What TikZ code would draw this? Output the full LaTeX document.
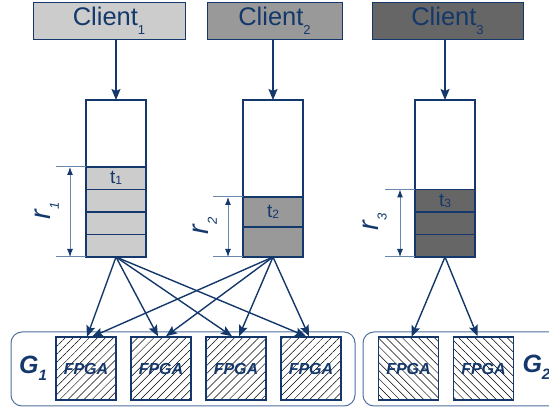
\documentclass[tikz,border=0pt]{standalone}
\usepackage{fontspec}
\setmainfont{Liberation Sans}
\usetikzlibrary{arrows.meta,positioning,patterns.meta}

\definecolor{navy}{HTML}{14386B}
\definecolor{dimblue}{HTML}{6A88AE}
\definecolor{grpblue}{HTML}{4F6F9C}
\definecolor{lite}{HTML}{CCCCCC}
\definecolor{mid}{HTML}{999999}
\definecolor{dark}{HTML}{666666}

\newcommand{\csub}[1]{\raisebox{-9pt}{\fontsize{13}{13}\selectfont #1}}
\newcommand{\tsub}[1]{\raisebox{-1pt}{\fontsize{12}{12}\selectfont #1}}
\newcommand{\rsub}[1]{\raisebox{-8pt}{\fontsize{13}{13}\selectfont #1}}
\newcommand{\gsub}[1]{\raisebox{-7pt}{\fontsize{15}{15}\selectfont #1}}

\tikzset{
  client/.style={draw=navy, line width=0.8pt, minimum height=37pt, inner sep=0pt,
    text=navy, font=\fontsize{25.5}{25.5}\selectfont},
  queue/.style={draw=navy, line width=1.5pt, minimum width=60pt, minimum height=157pt,
    inner sep=0pt, outer sep=0pt},
  slot/.style={draw=navy, line width=1.2pt, minimum width=60pt, minimum height=22.5pt,
    inner sep=0pt, outer sep=0pt, text=navy, font=\fontsize{19}{19}\selectfont},
  bigslot/.style={slot, minimum height=30pt},
  fpga/.style={draw=navy, line width=1.5pt, minimum width=60pt, minimum height=63pt,
    inner sep=0pt, text=navy, font=\fontsize{16}{16}\selectfont\bfseries\itshape},
  hatchne/.style={pattern={Lines[angle=45,distance=5.7pt,line width=0.5pt]}, pattern color=black},
  hatchnw/.style={pattern={Lines[angle=-45,distance=5.7pt,line width=0.5pt]}, pattern color=black},
  group/.style={draw=grpblue, line width=1pt, rounded corners=11pt, minimum height=74pt},
  flow/.style={draw=navy, line width=1.4pt, -{Stealth[length=11pt,width=9pt,inset=2pt]}},
  tick/.style={draw=dimblue, line width=1pt},
  dim/.style={draw=dimblue, line width=1pt,
    {Latex[length=8pt,width=6pt,color=navy]}-{Latex[length=8pt,width=6pt,color=navy]}},
  rlabel/.style={text=navy, rotate=90, font=\fontsize{29}{29}\selectfont\itshape},
  glabel/.style={text=navy, font=\fontsize{25}{25}\selectfont\bfseries\itshape},
}

\begin{document}
\begin{tikzpicture}[x=1pt, y=-1pt, node distance=75pt]
\useasboundingbox (0,0) rectangle (549,411);

\node (c1) [client, fill=lite, minimum width=152pt] at (109,20.5) {Client\csub{1}};
\node (c2) [client, fill=mid, minimum width=135pt] at (274.5,20.5) {Client\csub{2}};
\node (c3) [client, fill=dark, minimum width=151pt] at (447.5,20.5) {Client\csub{3}};

\node (q1) [queue] at (116,178.5) {};
\node (q2) [queue] at (273,178.5) {};
\node (q3) [queue] at (445,178.5) {};

\node (s14) [slot, fill=lite, above=0pt of q1.south] {};
\node (s13) [slot, fill=lite, above=0pt of s14] {};
\node (s12) [slot, fill=lite, above=0pt of s13] {};
\node (t1) [slot, fill=lite, above=0pt of s12] {t\tsub{1}};

\node (s22) [bigslot, fill=mid, above=0pt of q2.south] {};
\node (t2) [bigslot, fill=mid, above=0pt of s22] {t\tsub{2}};

\node (s33) [slot, fill=dark, above=0pt of q3.south] {};
\node (s32) [slot, fill=dark, above=0pt of s33] {};
\node (t3) [slot, fill=dark, above=0pt of s32] {t\tsub{3}};

\draw[tick] ([xshift=-30pt]t1.north west) -- (t1.north west);
\draw[tick] ([xshift=-30pt]q1.south west) -- (q1.south west);
\draw[dim] ([xshift=-16pt]t1.north west) -- ([xshift=-16pt]q1.south west);
\node (r1) [rlabel] at (47,211) {r\rsub{1}};

\draw[tick] ([xshift=-30pt]t2.north west) -- (t2.north west);
\draw[tick] ([xshift=-30pt]q2.south west) -- (q2.south west);
\draw[dim] ([xshift=-15pt]t2.north west) -- ([xshift=-15pt]q2.south west);
\node (r2) [rlabel] at (205,226) {r\rsub{2}};

\draw[tick] ([xshift=-30pt]t3.north west) -- (t3.north west);
\draw[tick] ([xshift=-30pt]q3.south west) -- (q3.south west);
\draw[dim] ([xshift=-15pt]t3.north west) -- ([xshift=-15pt]q3.south west);
\node (r3) [rlabel] at (375,222) {r\rsub{3}};

\node (g1) [group, minimum width=344pt] at (183,369) {};
\node (g2) [group, minimum width=210pt] at (468,369) {};
\node (l1) [glabel] at (33,368) {G\gsub{1}};
\node (l2) [glabel, anchor=west] at (519,367) {G\gsub{2}};

\node (f1) [fpga, hatchne] at (86,368.5) {FPGA};
\node (f2) [fpga, hatchne, right of = f1] {FPGA};
\node (f3) [fpga, hatchne, right of = f2] {FPGA};
\node (f4) [fpga, hatchne, right of = f3] {FPGA};
\node (f5) [fpga, hatchnw] at (408.5,368.5) {FPGA};
\node (f6) [fpga, hatchnw, right of = f5] {FPGA};

\draw[flow] (c1.south -| q1.north) -- (q1.north);
\draw[flow] (c2.south -| q2.north) -- (q2.north);
\draw[flow] (c3.south -| q3.north) -- (q3.north);

\draw[flow] (q1.south) -- ([xshift=1pt]f1.north);
\draw[flow] (q1.south) -- ([xshift=-3pt]f2.north);
\draw[flow] (q1.south) -- ([xshift=-4pt]f3.north);
\draw[flow] (q1.south) -- ([xshift=-5pt]f4.north);
\draw[flow] (q2.south) -- ([xshift=6pt]f1.north);
\draw[flow] (q2.south) -- ([xshift=5pt]f2.north);
\draw[flow] (q2.south) -- ([xshift=3pt]f3.north);
\draw[flow] (q2.south) -- ([xshift=-2pt]f4.north);
\draw[flow] (q3.south) -- ([xshift=3pt]f5.north);
\draw[flow] (q3.south) -- ([xshift=-6pt]f6.north);
\end{tikzpicture}
\end{document}
